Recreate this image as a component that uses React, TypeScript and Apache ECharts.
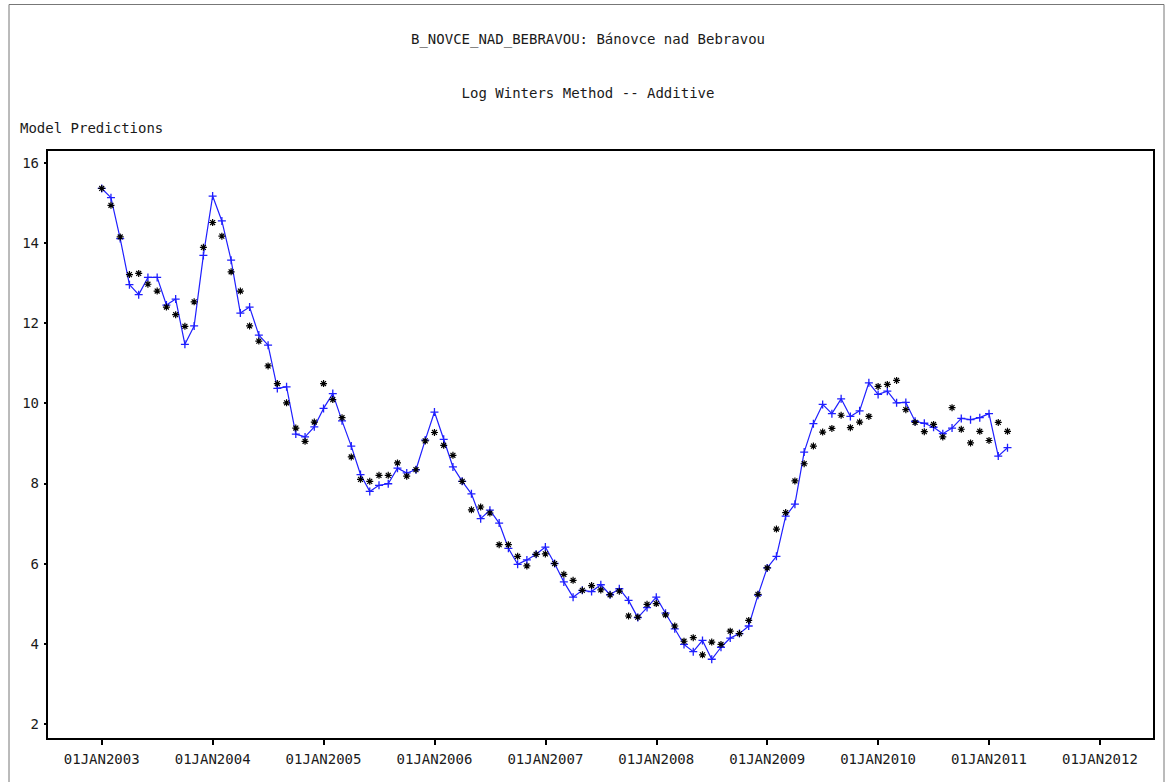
import React, { useEffect, useRef } from "react";
import * as echarts from "echarts";

// Monthly index: 0 = JAN2003
const predicted: number[] = [
  15.36, 15.13, 14.11, 12.96, 12.71, 13.14, 13.14, 12.45, 12.6, 11.47, 11.93, 13.69,
  15.17, 14.55, 13.57, 12.25, 12.4, 11.7, 11.45, 10.37, 10.41, 9.23, 9.16, 9.41,
  9.87, 10.24, 9.56, 8.93, 8.22, 7.8, 7.95, 7.99, 8.38, 8.26, 8.34, 9.08,
  9.78, 9.1, 8.41, 8.05, 7.74, 7.12, 7.33, 7.01, 6.38, 5.98, 6.09, 6.23,
  6.41, 6.0, 5.54, 5.16, 5.33, 5.3, 5.47, 5.22, 5.37, 5.08, 4.65, 4.9,
  5.16, 4.76, 4.37, 3.98, 3.8, 4.08, 3.61, 3.91, 4.14, 4.25, 4.44, 5.21,
  5.89, 6.18, 7.18, 7.48, 8.78, 9.49, 9.97, 9.74, 10.11, 9.67, 9.81, 10.51,
  10.22, 10.3, 10.01, 10.02, 9.55, 9.5, 9.4, 9.24, 9.38, 9.62, 9.59, 9.64,
  9.74, 8.68, 8.89,
];

const actual: number[] = [
  15.36, 14.94, 14.15, 13.21, 13.24, 12.97, 12.8, 12.4, 12.21, 11.92, 12.53, 13.89,
  14.51, 14.17, 13.28, 12.8, 11.93, 11.55, 10.93, 10.49, 10.01, 9.38, 9.05, 9.53,
  10.49, 10.09, 9.64, 8.66, 8.1, 8.05, 8.2, 8.2, 8.51, 8.18, 8.34, 9.06,
  9.27, 8.95, 8.7, 8.05, 7.34, 7.41, 7.26, 6.47, 6.47, 6.18, 5.94, 6.23,
  6.24, 6.0, 5.73, 5.58, 5.33, 5.45, 5.34, 5.22, 5.31, 4.69, 4.66, 4.98,
  5.0, 4.72, 4.44, 4.06, 4.15, 3.72, 4.04, 3.98, 4.31, 4.25, 4.58, 5.23,
  5.89, 6.86, 7.27, 8.06, 8.49, 8.93, 9.28, 9.37, 9.7, 9.39, 9.53, 9.67,
  10.42, 10.47, 10.57, 9.84, 9.52, 9.29, 9.47, 9.16, 9.89, 9.35, 9.01, 9.3,
  9.07, 9.52, 9.3,
];

const xTickMonths: number[] = [0, 12, 24, 36, 48, 60, 72, 84, 96, 108];
const xTickLabels: string[] = [
  "01JAN2003", "01JAN2004", "01JAN2005", "01JAN2006", "01JAN2007",
  "01JAN2008", "01JAN2009", "01JAN2010", "01JAN2011", "01JAN2012",
];
const yTicks: number[] = [2, 4, 6, 8, 10, 12, 14, 16];

const titleMain = "B_NOVCE_NAD_BEBRAVOU: Bánovce nad Bebravou";
const titleSub = "Log Winters Method -- Additive";
const yAxisTitle = "Model Predictions";

const MONO = "'DejaVu Sans Mono', 'Liberation Mono', monospace";

const PLUS = "path://M0,5L10,5M5,0L5,10";
const STAR = "path://M5,0L5,10M0,5L10,5M1.5,1.5L8.5,8.5M8.5,1.5L1.5,8.5";

export default function App() {
  const ref = useRef<HTMLDivElement>(null);
  useEffect(() => {
    if (!ref.current) return;
    const chart = echarts.init(ref.current, null, { renderer: "svg" });
    chart.setOption({
      animation: false,
      backgroundColor: "#ffffff",
      grid: {
        show: true,
        left: 47,
        right: 13,
        top: 150,
        bottom: 43,
        borderColor: "#000",
        borderWidth: 2,
        backgroundColor: "transparent",
      },
      xAxis: {
        type: "value",
        min: -5.92,
        max: 113.85,
        axisLine: { show: false, onZero: false },
        splitLine: { show: false },
        axisTick: {
          show: true,
          customValues: xTickMonths,
          length: 6,
          lineStyle: { color: "#000", width: 2 },
        },
        axisLabel: {
          show: true,
          customValues: xTickMonths,
          formatter: (v: number) => {
            const i = xTickMonths.indexOf(Math.round(v));
            return i >= 0 ? xTickLabels[i] : "";
          },
          margin: 13,
          fontFamily: MONO,
          fontSize: 14,
          color: "#1a1a1a",
        },
      },
      yAxis: {
        type: "value",
        min: 1.62,
        max: 16.32,
        axisLine: { show: false, onZero: false },
        splitLine: { show: false },
        axisTick: {
          show: true,
          customValues: yTicks,
          length: 3,
          lineStyle: { color: "#000", width: 2 },
        },
        axisLabel: {
          show: true,
          customValues: yTicks,
          margin: 8,
          fontFamily: MONO,
          fontSize: 14,
          color: "#1a1a1a",
        },
      },
      graphic: [
        {
          type: "polyline",
          shape: { points: [[9, 790], [9, 4.5], [1164, 4.5], [1164, 790]] },
          style: { stroke: "#777", lineWidth: 1, fill: "none" },
          silent: true,
        },
        {
          type: "text",
          x: 588,
          y: 39,
          style: {
            text: titleMain,
            font: `14px ${MONO}`,
            fill: "#1a1a1a",
            textAlign: "center",
            textVerticalAlign: "middle",
          },
        },
        {
          type: "text",
          x: 588,
          y: 93,
          style: {
            text: titleSub,
            font: `14px ${MONO}`,
            fill: "#1a1a1a",
            textAlign: "center",
            textVerticalAlign: "middle",
          },
        },
        {
          type: "text",
          x: 20,
          y: 128,
          style: {
            text: yAxisTitle,
            font: `14px ${MONO}`,
            fill: "#1a1a1a",
            textAlign: "left",
            textVerticalAlign: "middle",
          },
        },
      ],
      series: [
        {
          name: "Predicted",
          type: "line",
          data: predicted.map((v, i) => [i, v]),
          symbol: PLUS,
          symbolSize: 8,
          showAllSymbol: true,
          lineStyle: { color: "#1f1fff", width: 1.2 },
          itemStyle: { color: "#1f1fff", borderColor: "#1f1fff", borderWidth: 1.3 },
          z: 2,
        },
        {
          name: "Actual",
          type: "scatter",
          data: actual.map((v, i) => [i, v]),
          symbol: STAR,
          symbolSize: 7,
          itemStyle: { color: "#000", borderColor: "#000", borderWidth: 1.2, opacity: 1 },
          z: 3,
        },
      ],
    });
    return () => chart.dispose();
  }, []);
  return (
    <div
      ref={ref}
      style={{ position: "fixed", left: 0, top: 0, width: 1167, height: 782 }}
    />
  );
}
